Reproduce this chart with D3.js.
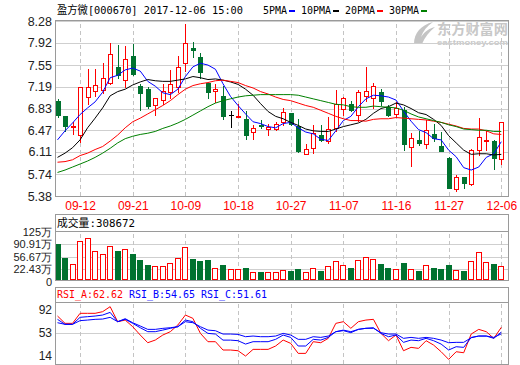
<!DOCTYPE html>
<html><head><meta charset="utf-8">
<script src="https://cdn.jsdelivr.net/npm/d3@7"></script>
<style>body{margin:0;background:#fff}svg{display:block}</style>
</head><body><svg id="c" width="520" height="365"></svg>
<script>
const dates = ["09-07","09-08","09-11","09-12","09-13","09-14","09-15","09-18","09-19","09-20","09-21","09-22","09-25","09-26","09-27","09-28","09-29","10-09","10-10","10-11","10-12","10-13","10-16","10-17","10-18","10-19","10-20","10-23","10-24","10-25","10-26","10-27","10-30","10-31","11-01","11-02","11-03","11-06","11-07","11-08","11-09","11-10","11-13","11-14","11-15","11-16","11-17","11-20","11-21","11-22","11-23","11-24","11-27","11-28","11-29","11-30","12-01","12-04","12-05","12-06"];
const open  = [6.95,6.70,6.53,6.39,7.02,7.12,7.13,7.26,7.51,7.31,7.70,7.20,7.16,6.89,6.97,7.11,7.18,7.59,7.84,7.69,7.26,7.12,7.03,6.73,6.70,6.66,6.44,6.55,6.49,6.49,6.61,6.76,6.54,6.07,6.17,6.39,6.29,6.51,6.82,6.91,6.73,7.04,7.01,7.11,6.85,6.74,6.81,6.19,6.30,6.24,6.41,6.21,6.01,5.49,5.69,5.58,6.14,6.29,6.29,6.00];
const high  = [6.98,6.71,6.61,7.19,7.48,7.48,7.58,7.91,7.88,7.87,7.90,7.23,7.18,7.00,7.24,7.47,7.70,8.23,7.94,7.75,7.26,7.24,7.20,6.79,6.91,6.79,6.56,6.64,6.57,6.60,6.84,6.76,6.65,6.24,6.55,6.55,6.69,7.13,7.02,6.95,7.13,7.51,7.26,7.16,6.89,6.93,6.85,6.42,6.45,6.64,6.57,6.44,6.02,5.73,5.69,6.16,6.67,6.45,6.30,6.61];
const low   = [6.69,6.46,6.40,6.27,6.91,7.03,7.08,7.23,7.33,7.18,7.39,6.81,6.83,6.72,6.90,7.01,7.11,7.45,7.69,7.34,7.01,6.93,6.66,6.52,6.70,6.33,6.33,6.51,6.39,6.48,6.56,6.56,6.11,6.07,6.09,6.29,6.26,6.45,6.72,6.79,6.63,6.95,6.83,6.89,6.71,6.69,6.15,5.88,6.22,6.17,6.29,6.12,5.51,5.47,5.52,5.57,6.06,6.14,5.82,5.91];
const close = [6.73,6.54,6.54,7.19,7.19,7.22,7.34,7.74,7.39,7.65,7.40,7.08,6.87,7.00,7.12,7.24,7.51,7.91,7.80,7.43,7.11,7.16,6.71,6.73,6.71,6.39,6.51,6.54,6.52,6.57,6.77,6.58,6.13,6.16,6.42,6.30,6.49,6.91,7.01,6.80,7.11,7.12,7.20,6.96,6.73,6.83,6.24,6.34,6.26,6.47,6.34,6.13,5.52,5.69,5.59,6.14,6.36,6.30,6.01,6.61];
const ma5  = [6.31,6.46,6.59,6.73,6.84,6.94,7.10,7.34,7.38,7.47,7.50,7.45,7.28,7.20,7.09,7.06,7.15,7.36,7.52,7.58,7.55,7.48,7.24,7.03,6.88,6.74,6.61,6.58,6.53,6.51,6.58,6.60,6.51,6.44,6.41,6.32,6.30,6.46,6.63,6.70,6.86,6.99,7.05,7.04,7.02,6.97,6.79,6.62,6.48,6.43,6.33,6.31,6.14,6.03,5.85,5.81,5.86,6.02,6.08,6.28];
const ma10 = [6.02,6.09,6.18,6.31,6.51,6.67,6.84,7.04,7.11,7.15,7.22,7.27,7.31,7.29,7.28,7.28,7.30,7.32,7.36,7.34,7.31,7.32,7.30,7.27,7.23,7.15,7.05,6.91,6.78,6.70,6.66,6.60,6.55,6.49,6.46,6.45,6.45,6.49,6.53,6.56,6.59,6.65,6.75,6.83,6.86,6.92,6.89,6.83,6.76,6.73,6.65,6.55,6.38,6.26,6.14,6.07,6.08,6.08,6.06,6.07];
const ma20 = [5.94,5.95,5.98,6.05,6.09,6.15,6.20,6.29,6.39,6.51,6.61,6.67,6.74,6.81,6.88,6.96,7.06,7.15,7.21,7.24,7.26,7.29,7.30,7.28,7.26,7.21,7.17,7.11,7.07,7.02,6.98,6.96,6.92,6.88,6.85,6.80,6.75,6.70,6.66,6.63,6.63,6.62,6.65,6.66,6.66,6.68,6.67,6.66,6.65,6.64,6.62,6.60,6.57,6.54,6.50,6.49,6.49,6.46,6.41,6.40];
const ma30 = [5.77,5.81,5.86,5.91,5.96,6.02,6.09,6.17,6.26,6.33,6.37,6.40,6.42,6.45,6.50,6.54,6.59,6.65,6.72,6.79,6.86,6.92,6.96,6.99,7.02,7.04,7.05,7.06,7.06,7.06,7.06,7.06,7.05,7.02,6.99,6.96,6.93,6.90,6.89,6.86,6.85,6.85,6.87,6.86,6.85,6.84,6.80,6.74,6.69,6.66,6.63,6.60,6.56,6.53,6.49,6.48,6.47,6.47,6.45,6.45];
const volume = [90.8,53.9,35.4,100.0,107.4,72.3,63.1,85.3,72.3,77.0,63.1,47.4,33.5,29.8,29.8,40.1,53.9,82.5,51.1,44.6,47.4,26.1,33.5,21.6,21.6,25.1,13.1,14.2,14.2,14.2,19.6,16.9,23.4,14.2,25.1,16.9,30.5,44.6,32.7,25.1,47.4,55.5,50.1,36.4,25.1,21.6,39.2,22.4,16.9,32.7,25.1,22.4,33.5,18.8,16.9,43.5,68.5,40.9,36.4,30.87];
const rsiA = [81.8,69.4,69.4,86.4,86.4,86.4,89.2,97.7,72.2,75,63.7,49.6,36.6,41.1,49.6,55.3,66.6,83.5,77.9,52.4,38.3,38.3,24.2,24.2,23,14,25.3,25.3,25.3,31,41.1,35.5,18.5,18.5,38.3,36.6,44,69.4,72.2,61,72.2,75,76.2,52.4,40,49.6,23,28.7,27,40,32.6,21.3,8.3,21.3,19.6,51.3,59.2,55.3,44,62.62];
const rsiB = [76.2,67.7,67.7,79.6,80.7,81.8,83.5,88,72.2,76.2,69.4,62,55.3,55.3,58,61,63.7,75,72.2,61,52.4,51.3,41,41,40,34.3,38.3,38.3,38.3,42.3,49.6,45.6,31,31,42.3,41.1,45.6,55.3,57,53.6,59.2,61,62,52.4,46.8,49.6,37.2,41.1,40,44,40,34.3,24.2,29.8,28.7,45.6,47.9,47.9,44,54.65];
const rsiC = [70.5,67.7,67.7,74,75,76.2,76.7,79.6,72.2,77.3,70.5,64.9,59.2,59.2,60.9,62,63.7,72.2,70.5,63.7,58,56.9,51.3,51.3,50.7,46.8,47.9,46.8,46.8,47.9,52.4,49.6,42.3,42.3,46.8,45.6,47.9,55.3,58,55.3,59.2,61,61,53.6,51.3,51.3,44,45.6,44,45.6,44,41.1,36.6,37.2,37.2,45,47.9,47.9,45.6,51.61];
const priceTicks = [5.38,5.74,6.11,6.47,6.83,7.19,7.55,7.92,8.28];
const volTicks = [0,22.43,56.67,90.91,125];
const rsiTicks = [14,53,92];
const dateTicks = ["09-12","09-21","10-09","10-18","10-27","11-07","11-16","11-27","12-06"];
const title = "盈方微[000670] 2017-12-06 15:00";
const maNames = ["5PMA","10PMA","20PMA","30PMA"];
const maColors = ["#0000ff","#000000","#ff0000","#008000"];
const volTitle = "成交量:308672";
const rsiNames = ["RSI_A:62.62","RSI_B:54.65","RSI_C:51.61"];
const rsiColors = ["#ff0000","#0000ff","#0000ff"];

const UP = "#ff0000", DN = "#00722f", GRID = "#cfcfcf", FRAME = "#9a9a9a";
const svg = d3.select("#c");
const L = 55, R = 508, VBOT = 280;
const x = d3.scalePoint().domain(dates).range([57.5, 501.3]);
const yP = d3.scaleLinear().domain([5.38, 8.28]).range([196, 21]);
const yV = d3.scaleLinear().domain([0, 125]).range([277.2, 232]);
const yR = d3.scaleLinear().domain([0, 100]).range([364.3, 305.3]);
const px = d => Math.round(x(d));

function mono(g, str, xx, yy, color) {
  const w = [...str].reduce((s, c) => s + (c.charCodeAt(0) > 255 ? 12 : 6), 0);
  g.append("text").attr("x", xx).attr("y", yy)
    .attr("textLength", w).attr("lengthAdjust", "spacingAndGlyphs")
    .attr("font-family", "'DejaVu Sans Mono','Noto Sans CJK SC',monospace")
    .attr("font-size", 11).attr("fill", color).text(str);
  return w;
}

// ---- watermark ----
const wm = svg.append("g");
wm.append("path").attr("d", "M414,44 C414,33 421,25 433,22 C427,26 423,31 421,37 C425,31 430,28 435,27 C429,32 425,37 422,44 Z").attr("fill", "#c4c4c4");
wm.append("text").attr("x", 437).attr("y", 34).attr("textLength", 71).attr("lengthAdjust", "spacingAndGlyphs")
  .attr("font-family", "'Noto Sans CJK SC'").attr("font-weight", "bold").attr("font-size", 14).attr("fill", "#c8c8c8").text("东方财富网");
wm.append("text").attr("x", 437).attr("y", 45).attr("textLength", 71).attr("lengthAdjust", "spacingAndGlyphs")
  .attr("font-family", "'Liberation Sans'").attr("font-weight", "bold").attr("font-size", 7.5).attr("fill", "#c8c8c8").text("eastmoney.com");

// ---- header ----
mono(svg, title, 57, 14, "#000");
let lx = 263;
maNames.forEach((n, k) => {
  const w = mono(svg, n, lx, 14, "#000");
  svg.append("rect").attr("x", lx + w + 2).attr("y", 10).attr("width", 6).attr("height", 2).attr("fill", maColors[k]);
  lx += w + 2 + 6 + 6;
});

// ---- grids ----
function hgrid(scale, vals) {
  svg.append("g").attr("transform", `translate(${L},0)`)
    .call(d3.axisLeft(scale).tickValues(vals).tickSize(-(R - L)).tickFormat(""))
    .call(g => g.select(".domain").remove())
    .call(g => g.selectAll("line").attr("stroke", GRID).attr("shape-rendering", "crispEdges"));
}
function vgrid(top, bottom) {
  svg.append("g").attr("transform", `translate(0,${bottom})`)
    .call(d3.axisBottom(x).tickValues(dateTicks).tickSize(-(bottom - top)).tickFormat(""))
    .call(g => g.select(".domain").remove())
    .call(g => g.selectAll("line").attr("stroke", "#c4c4c4").attr("stroke-dasharray", "4,3").attr("shape-rendering", "crispEdges"));
}
hgrid(yP, priceTicks);
vgrid(21, 196);
hgrid(yV, volTicks.slice(1, 4));
vgrid(232, 280);
hgrid(yR, [53]);
vgrid(303, 364);

// ---- y labels ----
function ylabels(scale, vals, fmt, size) {
  return svg.append("g").attr("transform", `translate(${L},0)`)
    .call(d3.axisLeft(scale).tickValues(vals).tickSize(0).tickPadding(3).tickFormat(fmt))
    .call(g => g.select(".domain").remove())
    .call(g => g.selectAll("text").attr("font-family", "'Liberation Sans',Arial").attr("font-size", size).attr("fill", "#222"));
}
ylabels(yP, priceTicks, d3.format(".2f"), 12.5);
const vl = ylabels(yV, volTicks, d => d === 0 ? "0" : d + "万", 11);
// the "0" label sits on the panel's bottom edge
vl.selectAll(".tick").filter(d => d === 0).select("text").attr("y", VBOT + 1.5 - yV(0));
ylabels(yR, rsiTicks, d => d, 12);

// date labels
svg.append("g").attr("transform", "translate(0,196)")
  .call(d3.axisBottom(x).tickValues(dateTicks).tickSize(0).tickPadding(5.5))
  .call(g => g.select(".domain").remove())
  .call(g => g.selectAll("text").attr("font-family", "'Liberation Sans',Arial").attr("font-size", 12).attr("fill", "#ff0000"));

// ---- candles ----
const cg = svg.append("g").attr("shape-rendering", "crispEdges");
dates.forEach((d, i) => {
  const cx = px(d), o = open[i], c = close[i];
  const col = c > o ? UP : (c < o ? DN : "#000");
  cg.append("line").attr("x1", cx + 0.5).attr("x2", cx + 0.5)
    .attr("y1", Math.round(yP(high[i]))).attr("y2", Math.round(yP(low[i])) + 1).attr("stroke", col);
  const yt = Math.round(yP(Math.max(o, c))), yb = Math.round(yP(Math.min(o, c)));
  if (c > o) {
    cg.append("rect").attr("x", cx - 1.5).attr("y", yt + 0.5).attr("width", 4).attr("height", Math.max(yb - yt, 1))
      .attr("fill", "#fff").attr("stroke", UP);
  } else if (c < o) {
    cg.append("rect").attr("x", cx - 2).attr("y", yt).attr("width", 5).attr("height", Math.max(yb - yt, 1) + 1).attr("fill", DN);
  } else {
    cg.append("rect").attr("x", cx - 2).attr("y", yt).attr("width", 5).attr("height", 1).attr("fill", "#000");
  }
});

// ---- MA lines ----
[ma5, ma10, ma20, ma30].forEach((arr, k) => {
  svg.append("path").datum(arr)
    .attr("d", d3.line().x((v, i) => x(dates[i])).y(v => yP(v)))
    .attr("fill", "none").attr("stroke", maColors[k]).attr("stroke-width", 1);
});

// ---- volume bars ----
const vg = svg.append("g").attr("shape-rendering", "crispEdges");
dates.forEach((d, i) => {
  const cx = px(d);
  const yt = Math.round(yV(volume[i]));
  if (close[i] >= open[i]) {
    vg.append("rect").attr("x", cx - 2.5).attr("y", yt + 0.5).attr("width", 5).attr("height", VBOT - yt - 1)
      .attr("fill", "#fff").attr("stroke", UP);
  } else {
    vg.append("rect").attr("x", cx - 3).attr("y", yt).attr("width", 6).attr("height", VBOT - yt).attr("fill", DN);
  }
});

// ---- RSI ----
[rsiA, rsiB, rsiC].forEach((arr, k) => {
  svg.append("path").datum(arr)
    .attr("d", d3.line().x((v, i) => x(dates[i])).y(v => yR(v)))
    .attr("fill", "none").attr("stroke", rsiColors[k]).attr("stroke-width", 1);
});

// ---- frames ----
const fg = svg.append("g").attr("fill", "none").attr("stroke", FRAME).attr("shape-rendering", "crispEdges");
fg.append("rect").attr("x", L + 0.5).attr("y", 20.5).attr("width", R - L).attr("height", 176);
fg.append("rect").attr("x", L + 0.5).attr("y", 214.5).attr("width", R - L).attr("height", 66);
fg.append("line").attr("x1", L).attr("x2", R + 1).attr("y1", 231.5).attr("y2", 231.5);
fg.append("rect").attr("x", L + 0.5).attr("y", 287.5).attr("width", R - L).attr("height", 77);
fg.append("line").attr("x1", L).attr("x2", R + 1).attr("y1", 302.5).attr("y2", 302.5);

// panel headers
mono(svg, volTitle, 57, 227, "#000");
let rx = 57;
rsiNames.forEach((n, k) => { const w = mono(svg, n, rx, 298, rsiColors[k]); rx += w + 6; });
</script></body></html>
